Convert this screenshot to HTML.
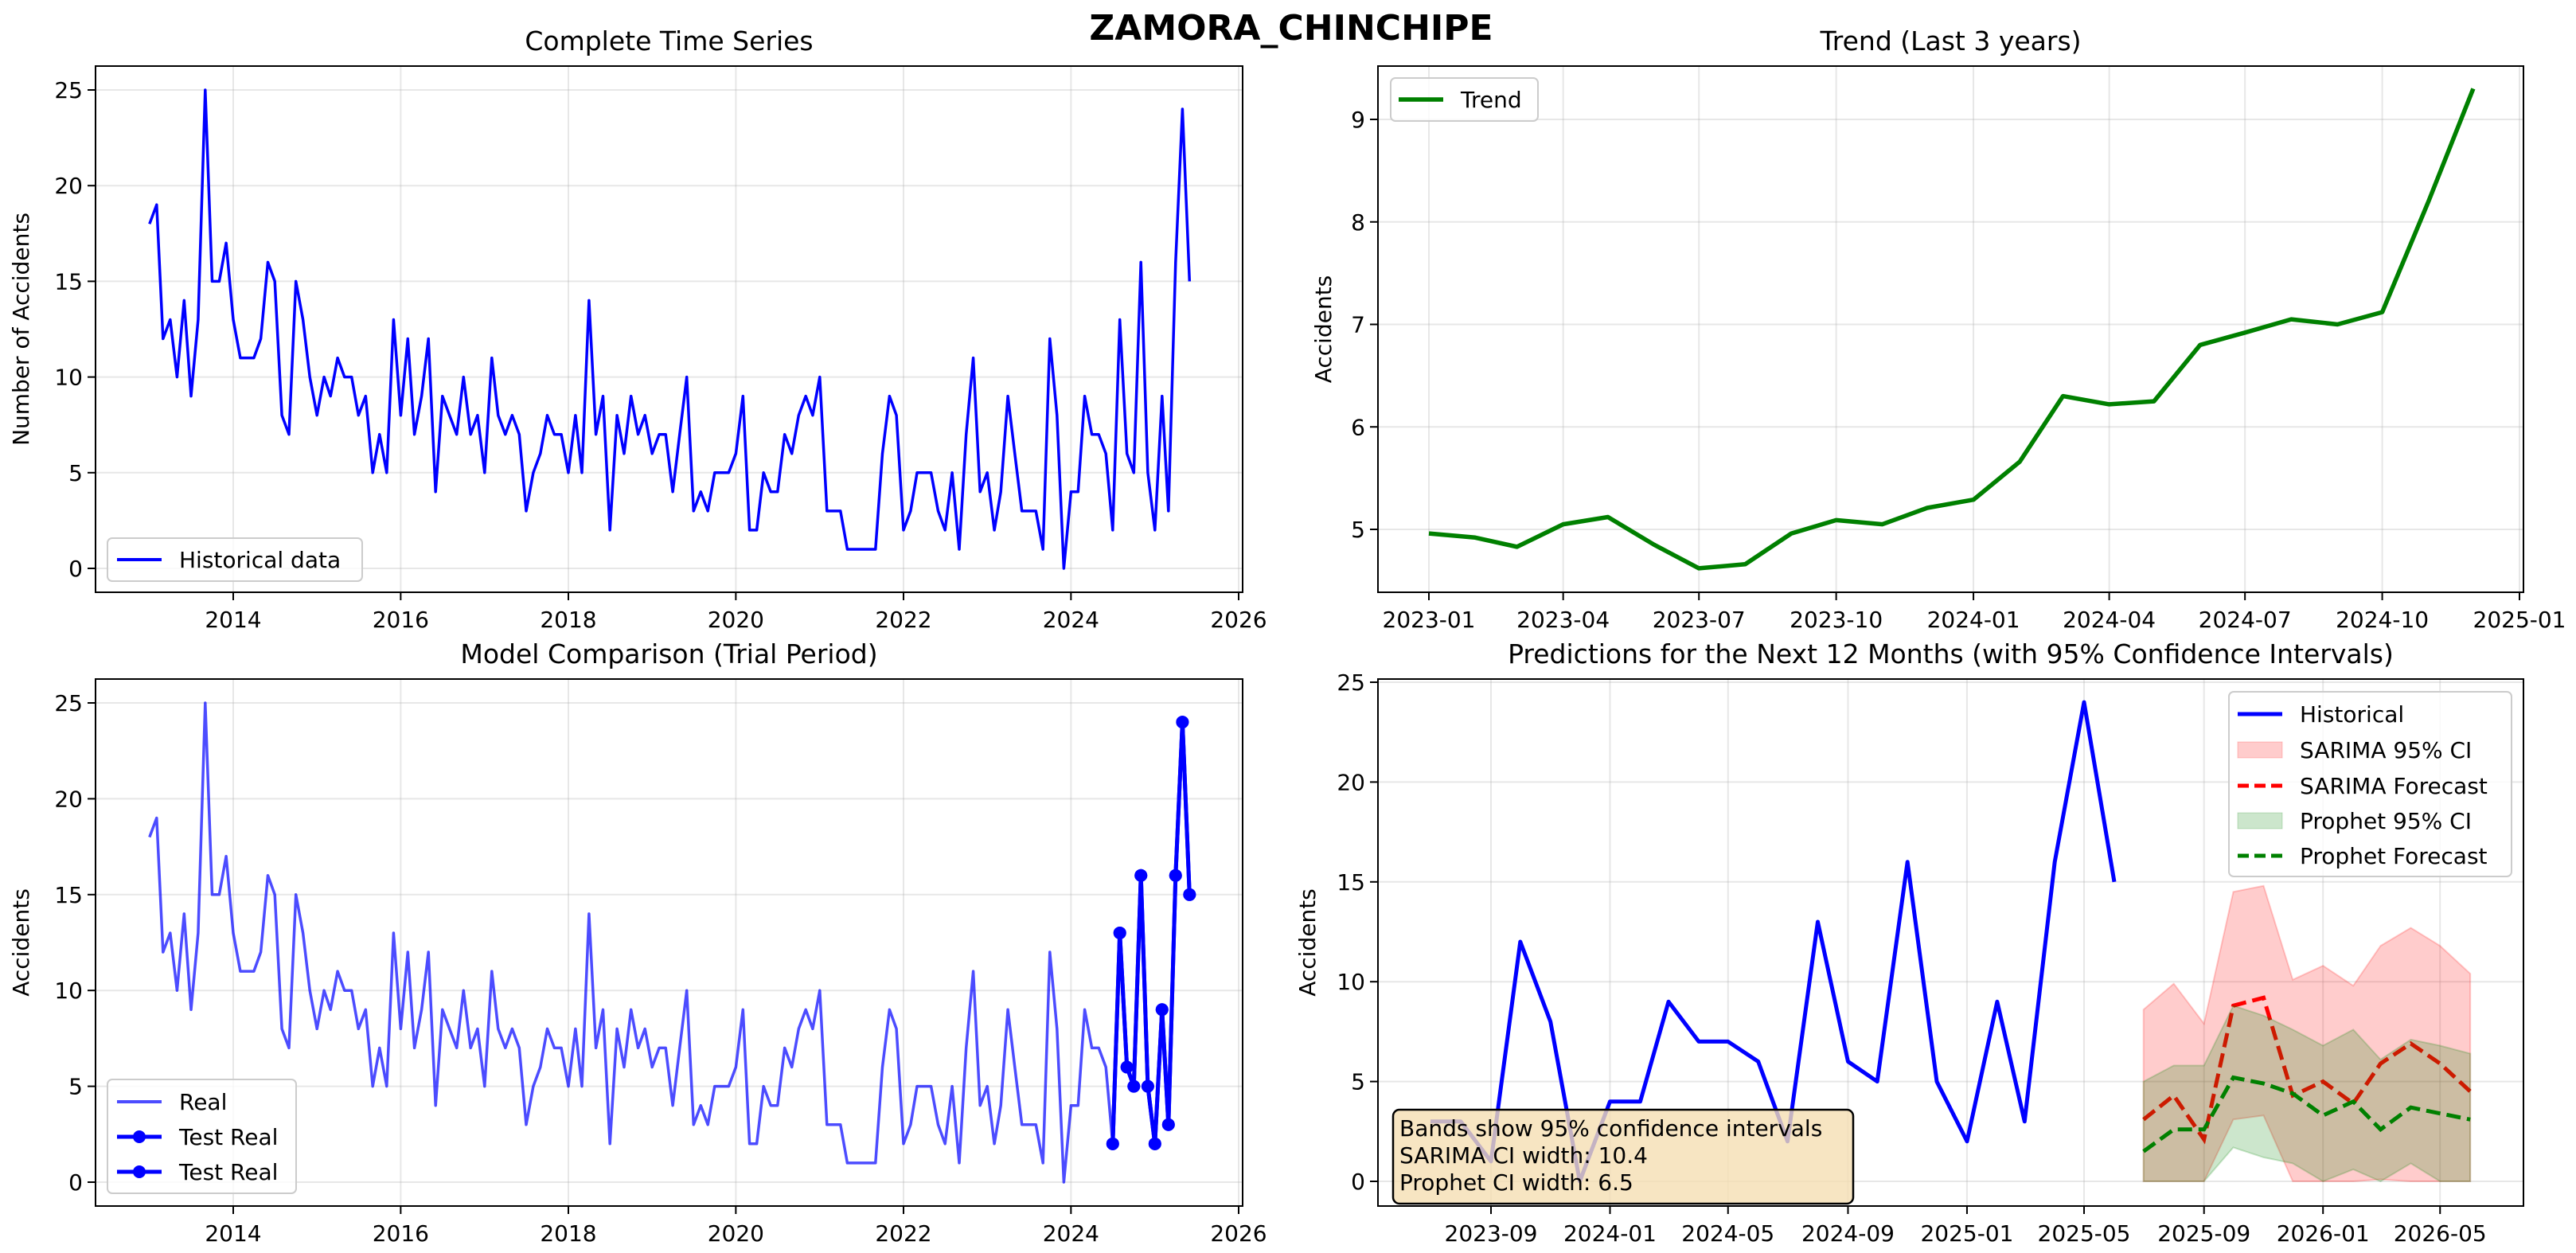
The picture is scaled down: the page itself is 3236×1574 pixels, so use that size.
<!DOCTYPE html>
<html><head><meta charset="utf-8">
<style>
html,body{margin:0;padding:0;background:#fff;}
svg{display:block;font-family:"DejaVu Sans","Liberation Sans",sans-serif;}
</style></head>
<body>
<svg id="fig" width="3236" height="1574" viewBox="0 0 3236 1574" xmlns="http://www.w3.org/2000/svg">
<rect width="3236" height="1574" fill="#fff"/>
<text x="1622" y="50" font-size="44" font-weight="bold" text-anchor="middle">ZAMORA_CHINCHIPE</text>
</svg>
<script>
// ---------- DATA ----------
const histStart = [2013, 1];
const histValues = [18,19,12,13,10,14,9,13,25,15,15,17,13,11,11,11,12,16,15,8,7,15,13,10,8,10,9,11,10,10,8,9,5,7,5,13,8,12,7,9,12,4,9,8,7,10,7,8,5,11,8,7,8,7,3,5,6,8,7,7,5,8,5,14,7,9,2,8,6,9,7,8,6,7,7,4,7,10,3,4,3,5,5,5,6,9,2,2,5,4,4,7,6,8,9,8,10,3,3,3,1,1,1,1,1,6,9,8,2,3,5,5,5,3,2,5,1,7,11,4,5,2,4,9,6,3,3,3,1,12,8,0,4,4,9,7,7,6,2,13,6,5,16,5,2,9,3,16,24,15];
const trendStart = [2023, 1];
const trendValues = [4.96,4.92,4.83,5.05,5.12,4.85,4.62,4.66,4.96,5.09,5.05,5.21,5.29,5.66,6.30,6.22,6.25,6.80,6.92,7.05,7.00,7.12,8.20,9.30];
const testCount = 12;
const recentCount = 24;
const fcStart = [2025, 7];
const sarimaForecast = [3.1,4.3,2.1,8.8,9.2,4.3,5.0,3.9,5.9,6.9,5.9,4.5];
const sarimaUpper = [8.6,9.9,7.9,14.5,14.8,10.1,10.8,9.8,11.8,12.7,11.8,10.4];
const sarimaLower = [0,0,0,3.1,3.3,0,0,0,0.1,0,0,0];
const prophetForecast = [1.5,2.6,2.6,5.2,4.9,4.4,3.3,4.0,2.6,3.7,3.4,3.1];
const prophetUpper = [5.0,5.8,5.8,8.8,8.3,7.6,6.8,7.6,6.1,7.1,6.8,6.4];
const prophetLower = [0,0,0,1.7,1.2,0.9,0,0.6,0,0.9,0,0];
const yearTicks = [2014,2016,2018,2020,2022,2024,2026];
const trendTicks = [[2023,1],[2023,4],[2023,7],[2023,10],[2024,1],[2024,4],[2024,7],[2024,10],[2025,1]];
const predTicks = [[2023,9],[2024,1],[2024,5],[2024,9],[2025,1],[2025,5],[2025,9],[2026,1],[2026,5]];
const countTicks = [0,5,10,15,20,25];
const trendYTicks = [5,6,7,8,9];

// ---------- HELPERS ----------
const NS = "http://www.w3.org/2000/svg";
const fig = document.getElementById('fig');
function el(tag, attrs, parent, text){
  const e = document.createElementNS(NS, tag);
  for (const k in attrs) e.setAttribute(k, attrs[k]);
  if (text !== undefined) e.textContent = text;
  (parent || fig).appendChild(e);
  return e;
}
function day(y, m){ return Date.UTC(y, m-1, 1)/86400000; }
function monthAdd(start, i){ let m = start[1]-1+i; return [start[0]+Math.floor(m/12), (m%12)+1]; }
function pad(n){ return n<10 ? '0'+n : ''+n; }
function linScale(d0, p0, d1, p1){ return v => p0 + (v-d0)*(p1-p0)/(d1-d0); }

function makeAxes(name, L, T, R, B){
  const g = el('g', {}, fig);
  
  
  return {g, L, T, R, B};
}
function drawGridTicks(ax, xs, xlabels, ys, ylabels, xScale, yScale){
  const gg = el('g', {}, ax.g);
  
  
  xs.forEach(v => { const x = xScale(v); if (x>=ax.L-1 && x<=ax.R+1) el('line',{x1:x,x2:x,y1:ax.T,y2:ax.B,stroke:'#b0b0b0','stroke-opacity':0.3,'stroke-width':2},gg); });
  ys.forEach(v => { const y = yScale(v); el('line',{x1:ax.L,x2:ax.R,y1:y,y2:y,stroke:'#b0b0b0','stroke-opacity':0.3,'stroke-width':2},gg); });
  const xt = el('g', {}, ax.g);
  
  
  xs.forEach((v,i) => {
    const x = xScale(v);
    el('line',{x1:x,x2:x,y1:ax.B,y2:ax.B+10,stroke:'#000','stroke-width':2},xt);
    const t = el('text',{x:x,y:ax.B+44,'font-size':28,'text-anchor':'middle'},xt,xlabels[i]);
    
    
  });
  const yt = el('g', {}, ax.g);
  
  
  ys.forEach((v,i) => {
    const y = yScale(v);
    el('line',{x1:ax.L-10,x2:ax.L,y1:y,y2:y,stroke:'#000','stroke-width':2},yt);
    const t = el('text',{x:ax.L-16,y:y+10,'font-size':28,'text-anchor':'end'},yt,ylabels[i]);
    
    
  });
}
function frame(ax){
  const f = el('rect',{x:ax.L,y:ax.T,width:ax.R-ax.L,height:ax.B-ax.T,fill:'none',stroke:'#000','stroke-width':2},ax.g);
  
  
}
function title(ax, txt, name){
  const t = el('text',{x:(ax.L+ax.R)/2,y:ax.T-20,'font-size':33,'text-anchor':'middle'},ax.g,txt);
  
  
}
function ylabel(ax, txt, x){
  const cy = (ax.T+ax.B)/2;
  const t = el('text',{x:x,y:cy,'font-size':28,'text-anchor':'middle',transform:`rotate(-90 ${x} ${cy})`},ax.g,txt);
  
  
}
function pathFrom(vals, start, xs, ys, offset){
  return vals.map((v,i)=>{ const d = monthAdd(start, i+(offset||0)); return (i?'L':'M')+xs(day(d[0],d[1])).toFixed(1)+','+ys(v).toFixed(1); }).join(' ');
}
function legendBox(ax, x, y, w, h){
  const r = el('rect',{x:x,y:y,width:w,height:h,rx:6,fill:'#fff','fill-opacity':0.8,stroke:'#ccc','stroke-width':2},ax.g);
  const g = el('g', {}, ax.g);
  
  
  g.appendChild(r);
  return g;
}
function legLine(g, x, y, color, label, opts){
  opts = opts || {};
  const e = el('g', {}, g);
  
  
  el('line',{x1:x,x2:x+56,y1:y,y2:y,stroke:color,'stroke-width':opts.w||4,'stroke-opacity':opts.op||1,'stroke-dasharray':opts.dash||'none'},e);
  if (opts.marker) el('circle',{cx:x+28,cy:y,r:8,fill:color},e);
  el('text',{x:x+78,y:y+10,'font-size':28},e,label);
}
function legPatch(g, x, y, color, label){
  const e = el('g', {}, g);
  
  
  el('rect',{x:x,y:y-10,width:56,height:20,fill:color,'fill-opacity':0.2,stroke:color,'stroke-opacity':0.2},e);
  el('text',{x:x+78,y:y+10,'font-size':28},e,label);
}

// ---------- AXES 1: Complete Time Series ----------
(function(){
  const ax = makeAxes('complete-time-series-chart', 120, 83, 1561, 744);
  const xs = linScale(day(2014,1), 293, day(2026,1), 1556);
  const ys = linScale(0, 714, 25, 113);
  drawGridTicks(ax, yearTicks.map(y=>day(y,1)), yearTicks.map(String), countTicks, countTicks.map(String), xs, ys);
  const p = el('path',{d:pathFrom(histValues, histStart, xs, ys),fill:'none',stroke:'#0000ff','stroke-width':3.5,'stroke-linejoin':'round'},ax.g);
  
  
  frame(ax);
  title(ax, 'Complete Time Series', 'complete-time-series-title');
  ylabel(ax, 'Number of Accidents', 36);
  const lg = legendBox(ax, 135, 676, 320, 54);
  legLine(lg, 147, 703, '#0000ff', 'Historical data');
})();

// ---------- AXES 2: Trend ----------
(function(){
  const ax = makeAxes('trend-chart', 1731, 83, 3170, 744);
  const xs = linScale(day(2023,1), 1795, day(2025,1), 3165);
  const ys = linScale(5, 665, 9, 150);
  drawGridTicks(ax, trendTicks.map(t=>day(t[0],t[1])), trendTicks.map(t=>t[0]+'-'+pad(t[1])), trendYTicks, trendYTicks.map(String), xs, ys);
  const p = el('path',{d:pathFrom(trendValues, trendStart, xs, ys),fill:'none',stroke:'#008000','stroke-width':5.5,'stroke-linejoin':'round'},ax.g);
  
  
  frame(ax);
  title(ax, 'Trend (Last 3 years)', 'trend-title');
  ylabel(ax, 'Accidents', 1672);
  const lg = legendBox(ax, 1747, 98, 185, 54);
  legLine(lg, 1757, 125, '#008000', 'Trend', {w:5.5});
})();

// ---------- AXES 3: Model Comparison ----------
(function(){
  const ax = makeAxes('model-comparison-chart', 120, 853, 1561, 1515);
  const xs = linScale(day(2014,1), 293, day(2026,1), 1556);
  const ys = linScale(0, 1485, 25, 883);
  drawGridTicks(ax, yearTicks.map(y=>day(y,1)), yearTicks.map(String), countTicks, countTicks.map(String), xs, ys);
  const p = el('path',{d:pathFrom(histValues, histStart, xs, ys),fill:'none',stroke:'#0000ff','stroke-opacity':0.7,'stroke-width':3.5,'stroke-linejoin':'round'},ax.g);
  
  
  const off = histValues.length - testCount;
  const testVals = histValues.slice(off);
  for (let k=0;k<2;k++){
    const t = el('path',{d:pathFrom(testVals, histStart, xs, ys, off),fill:'none',stroke:'#0000ff','stroke-width':5,'stroke-linejoin':'round'},ax.g);
    
    
    testVals.forEach((v,i)=>{
      const d = monthAdd(histStart, off+i);
      const c = el('circle',{cx:xs(day(d[0],d[1])),cy:ys(v),r:8,fill:'#0000ff'},ax.g);
      
      
    });
  }
  frame(ax);
  title(ax, 'Model Comparison (Trial Period)', 'model-comparison-title');
  ylabel(ax, 'Accidents', 36);
  const lg = legendBox(ax, 135, 1356, 237, 143);
  legLine(lg, 147, 1384, '#0000ff', 'Real', {op:0.7});
  legLine(lg, 147, 1428, '#0000ff', 'Test Real', {marker:true,w:5});
  legLine(lg, 147, 1472, '#0000ff', 'Test Real', {marker:true,w:5});
})();

// ---------- AXES 4: Predictions ----------
(function(){
  const ax = makeAxes('predictions-chart', 1731, 853, 3170, 1515);
  const xs = linScale(day(2023,9), 1873, day(2025,5), 2618);
  const ys = linScale(0, 1484, 25, 857);
  drawGridTicks(ax, predTicks.map(t=>day(t[0],t[1])), predTicks.map(t=>t[0]+'-'+pad(t[1])), countTicks, countTicks.map(String), xs, ys);
  const off = histValues.length - recentCount;
  const h = el('path',{d:pathFrom(histValues.slice(off), histStart, xs, ys, off),fill:'none',stroke:'#0000ff','stroke-width':5,'stroke-linejoin':'round'},ax.g);
  
  
  function band(up, lo, color, name){
    const top = pathFrom(up, fcStart, xs, ys);
    const bot = lo.map((v,i)=>{ const d = monthAdd(fcStart,i); return 'L'+xs(day(d[0],d[1])).toFixed(1)+','+ys(v).toFixed(1); }).reverse().join(' ');
    const b = el('path',{d:top+' '+bot+' Z',fill:color,'fill-opacity':0.2,stroke:color,'stroke-opacity':0.2,'stroke-width':2},ax.g);
    
    
  }
  band(sarimaUpper, sarimaLower, '#ff0000', 'sarima-ci-band');
  const s = el('path',{d:pathFrom(sarimaForecast, fcStart, xs, ys),fill:'none',stroke:'#ff0000','stroke-width':5,'stroke-dasharray':'18,8'},ax.g);
  
  
  band(prophetUpper, prophetLower, '#008000', 'prophet-ci-band');
  const pr = el('path',{d:pathFrom(prophetForecast, fcStart, xs, ys),fill:'none',stroke:'#008000','stroke-width':5,'stroke-dasharray':'18,8'},ax.g);
  
  
  frame(ax);
  title(ax, 'Predictions for the Next 12 Months (with 95% Confidence Intervals)', 'predictions-title');
  ylabel(ax, 'Accidents', 1652);
  const lg = legendBox(ax, 2800, 869, 355, 232);
  legLine(lg, 2811, 897, '#0000ff', 'Historical', {w:5});
  legPatch(lg, 2811, 942, '#ff0000', 'SARIMA 95% CI');
  legLine(lg, 2811, 987, '#ff0000', 'SARIMA Forecast', {w:5,dash:'14,7'});
  legPatch(lg, 2811, 1031, '#008000', 'Prophet 95% CI');
  legLine(lg, 2811, 1075, '#008000', 'Prophet Forecast', {w:5,dash:'14,7'});
  const box = el('g', {}, ax.g);
  
  
  el('rect',{x:1750,y:1394,width:578,height:118,rx:8,fill:'#f5deb3','fill-opacity':0.8,stroke:'#000','stroke-width':2.5},box);
  el('text',{x:1758,y:1427,'font-size':28},box,'Bands show 95% confidence intervals');
  el('text',{x:1758,y:1461,'font-size':28},box,'SARIMA CI width: 10.4');
  el('text',{x:1758,y:1495,'font-size':28},box,'Prophet CI width: 6.5');
})();
</script>
</body></html>
